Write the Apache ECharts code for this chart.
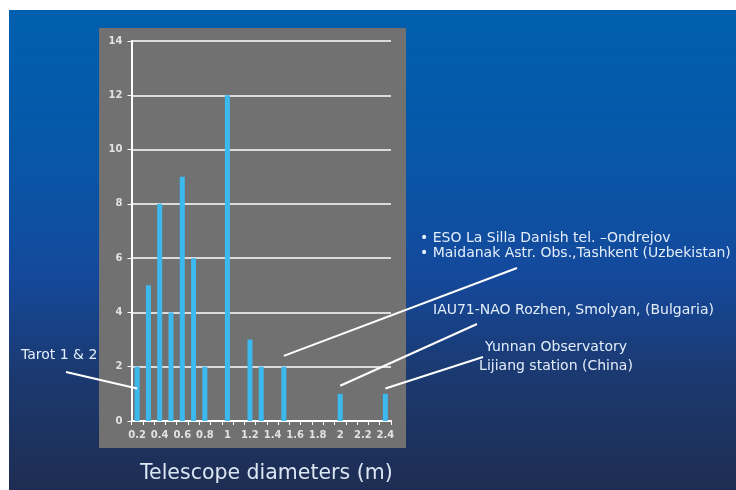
<!DOCTYPE html>
<html><head><meta charset="utf-8">
<script src="https://cdn.jsdelivr.net/npm/echarts@6/dist/echarts.min.js"></script>
<style>html,body{margin:0;padding:0;background:#fff}#c{width:736px;height:490px}</style>
</head><body><div id="c"></div>
<script>
const categories = ['0.2','0.3','0.4','0.5','0.6','0.7','0.8','0.9','1','1.1','1.2','1.3','1.4','1.5','1.6','1.7','1.8','1.9','2','2.1','2.2','2.3','2.4'];
const counts = [2,5,8,4,9,6,2,0,12,0,3,2,0,2,0,0,0,0,1,0,0,0,1];
const yTicks = {min:0, max:14, interval:2};
const xTitle = 'Telescope diameters (m)';
const notes = [
  {text:'Tarot 1 & 2', cat:'0.2', v:1.2},
  {text:'• ESO La Silla Danish tel. –Ondrejov\n• Maidanak Astr. Obs.,Tashkent (Uzbekistan)', cat:'1.5', v:2.4},
  {text:'IAU71-NAO Rozhen, Smolyan, (Bulgaria)', cat:'2', v:1.3},
  {text:'Yunnan Observatory\nLijiang station (China)', cat:'2.4', v:1.2}
];
const F = 'DejaVu Sans, Verdana, sans-serif';
const chart = echarts.init(document.getElementById('c'));
const bg = [
  {type:'rect', z:-100, shape:{x:9,y:10,width:727,height:480}, silent:true,
   style:{fill:new echarts.graphic.LinearGradient(0,0,0,1,[
     {offset:0,color:'#005fae'},{offset:0.3,color:'#0857a8'},{offset:0.55,color:'#14499c'},
     {offset:0.75,color:'#1b3a72'},{offset:1,color:'#1e2d52'}])}},
  {type:'rect', z:-90, shape:{x:99,y:28,width:307,height:420}, silent:true, style:{fill:'#717171'}},
  {type:'text', z:10, left:140, top:463, style:{text:xTitle, fill:'#dbe6f2', font:'20.5px '+F}}
];
chart.setOption({
  backgroundColor:'#ffffff',
  animation:false,
  grid:{left:131.5, right:345, top:41, bottom:69},
  xAxis:{type:'category', data:categories, boundaryGap:true,
    axisLine:{lineStyle:{color:'#ffffff', width:2}},
    axisTick:{show:true, length:4, lineStyle:{color:'#ffffff'}, interval:0},
    axisLabel:{interval:1, color:'#e2e2e2', fontFamily:F, fontSize:10, fontWeight:'bold', margin:9}},
  yAxis:{type:'value', min:yTicks.min, max:yTicks.max, interval:yTicks.interval,
    axisLine:{show:true, lineStyle:{color:'#ffffff', width:2}},
    axisTick:{show:true, length:4, lineStyle:{color:'#ffffff'}},
    axisLabel:{color:'#e2e2e2', fontFamily:F, fontSize:10, fontWeight:'bold', margin:9},
    splitLine:{lineStyle:{color:'#ffffff', width:1.5}}},
  series:[{type:'bar', data:counts, barWidth:5, itemStyle:{color:'#3cb9ee'}}],
  graphic:{elements:bg}
});
const textPos = [
  {x:21, y:347, lh:16, to:[66,372], align:'left'},
  {x:420, y:231, lh:15, to:[517,268], align:'left'},
  {x:433, y:302, lh:16, to:[477,324], align:'left'},
  {x:556, y:338, lh:19, to:[483,357], align:'center'}
];
const extra = [];
notes.forEach((n,i)=>{
  const p = chart.convertToPixel({seriesIndex:0}, [categories.indexOf(n.cat), n.v]);
  const t = textPos[i];
  extra.push({type:'line', z:10, shape:{x1:p[0], y1:p[1], x2:t.to[0], y2:t.to[1]}, style:{stroke:'#ffffff', lineWidth:2}});
  extra.push({type:'text', z:10, x:t.x, y:t.y, style:{text:n.text, fill:'#e4eefa', font:'14px '+F, align:t.align, lineHeight:t.lh}});
});
chart.setOption({graphic:{elements:bg.concat(extra)}});
</script></body></html>
